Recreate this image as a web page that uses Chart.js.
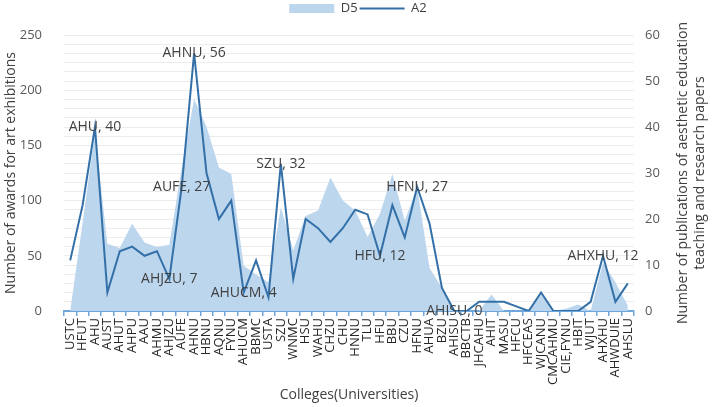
<!DOCTYPE html>
<html>
<head>
<meta charset="utf-8">
<script src="https://cdn.jsdelivr.net/npm/chart.js@4.4.0/dist/chart.umd.min.js"></script>
<style>
html,body{margin:0;padding:0;background:#fff;}
#wrap{width:716px;height:407px;position:relative;}
</style>
</head>
<body>
<div id="wrap"><canvas id="c"></canvas></div>
<script>
const categories = ['USTC','HFUT','AHU','AUST','AHUT','AHPU','AAU','AHMU','AHJZU','AUFE','AHNU','HBNU','AQNU','FYNU','AHUCM','BBMC','USTA','SZU','WNMC','HSU','WAHU','CHZU','CHU','HNNU','TLU','HFU','BBU','CZU','HFNU','AHUA','BZU','AHISU','BBCTB','JHCAHU','AHIT','MASU','HFCU','HFCEAS','WJCANU','CMCAHMU','CIE,FYNU','HBIT','WJUT','AHXHU','AHWDUIE','AHSLU'];
const d5Values = [0,80,162,61,57,79,62,58,60,130,192,167,130,124,41,33,26,94,55,86,91,121,100,91,67,88,124,82,112,39,21,0,0,0,15,0,0,0,14,0,2,6,0,44,26,5];
const a2Values = [11,23,40,4,13,14,12,13,7,27,56,30,20,24,4,11,3,32,7,20,18,15,18,22,21,12,23,16,27,19,5,0,0,2,2,2,1,0,4,0,0,0,2,12,2,6];
const leftTicks = [0,50,100,150,200,250];
const rightTicks = [0,10,20,30,40,50,60];
const annotatedColleges = ['AHU','AHJZU','AUFE','AHNU','AHUCM','SZU','HFU','HFNU','AHISU','AHXHU'];
const leftTitle = 'Number of awards for art exhibitions';
const rightTitle = ['Number of publications of aesthetic education','teaching and research papers'];
const xTitle = 'Colleges(Universities)';

const FONT = '"Open Sans", "DejaVu Sans", sans-serif';
const TEXT = '#404040';

const extras = {
  id: 'extras',
  beforeLayout(chart) {
    const lg = chart.legend;
    if (lg && !lg._patched) {
      const f = lg.fit;
      lg.fit = function () { f.call(this); this.height = 35; };
      lg._patched = true;
    }
  },
  afterDatasetsDraw(chart) {
    const ctx = chart.ctx, xs = chart.scales.x, ys = chart.scales.y1;
    ctx.save();
    ctx.font = '14px ' + FONT;
    ctx.fillStyle = TEXT;
    ctx.textAlign = 'center';
    ctx.textBaseline = 'middle';
    annotatedColleges.forEach(name => {
      const i = categories.indexOf(name);
      ctx.fillText(name + ', ' + a2Values[i], xs.getPixelForValue(i), ys.getPixelForValue(a2Values[i]));
    });
    ctx.restore();
  },
  afterDraw(chart) {
    const ctx = chart.ctx, a = chart.chartArea;
    ctx.save();
    ctx.font = '14px ' + FONT;
    ctx.fillStyle = TEXT;
    ctx.textAlign = 'center';
    ctx.textBaseline = 'middle';
    const cy = (a.top + a.bottom) / 2;
    [683, 700].forEach((x, k) => {
      ctx.save();
      ctx.translate(x, cy);
      ctx.rotate(-Math.PI / 2);
      ctx.fillText(rightTitle[k], 0, 0);
      ctx.restore();
    });
    ctx.restore();
  }
};

new Chart(document.getElementById('c'), {
  type: 'line',
  data: {
    labels: categories,
    datasets: [
      {
        label: 'D5',
        data: d5Values,
        yAxisID: 'y',
        fill: 'origin',
        backgroundColor: '#bcd6ee',
        borderColor: 'rgba(0,0,0,0)',
        borderWidth: 0,
        pointRadius: 0,
        pointBorderWidth: 0,
        pointStyle: 'rect',
        tension: 0,
        order: 1
      },
      {
        label: 'A2',
        data: a2Values,
        yAxisID: 'y1',
        fill: false,
        borderColor: '#3470a8',
        backgroundColor: '#3470a8',
        borderWidth: 2,
        pointRadius: 0,
        pointBorderWidth: 2,
        pointStyle: 'line',
        tension: 0,
        order: 0
      }
    ]
  },
  options: {
    responsive: true,
    maintainAspectRatio: false,
    animation: false,
    layout: { padding: 0 },
    plugins: {
      tooltip: { enabled: false },
      legend: {
        position: 'top',
        labels: {
          usePointStyle: true,
          pointStyleWidth: 45,
          boxHeight: 9,
          padding: 2,
          color: TEXT,
          font: { family: FONT, size: 13 },
          sort: (a, b) => a.datasetIndex - b.datasetIndex
        }
      }
    },
    scales: {
      x: {
        type: 'category',
        offset: true,
        afterFit: s => { s.height = 96; },
        grid: { display: true, drawOnChartArea: false, drawTicks: true, tickLength: 5, color: '#6fa6dc', offset: true, lineWidth: 1.5 },
        border: { display: true, color: '#6fa6dc', width: 2 },
        ticks: { autoSkip: false, minRotation: 90, maxRotation: 90, padding: 2, color: '#262626', font: { family: FONT, size: 13 } },
        title: { display: true, text: xTitle, color: TEXT, font: { family: FONT, size: 14 }, padding: { top: 0, bottom: 4 } }
      },
      y: {
        position: 'left',
        min: 0, max: 250,
        afterFit: s => { s.width = 64; },
        grid: { display: false },
        border: { display: false },
        ticks: { stepSize: 50, padding: 14, color: '#595959', font: { family: FONT, size: 13 },
                 callback: v => leftTicks.includes(v) ? v : '' },
        title: { display: true, text: leftTitle, color: TEXT, font: { family: FONT, size: 14 }, padding: { top: 3, bottom: 0 } }
      },
      y1: {
        position: 'right',
        min: 0, max: 60,
        afterFit: s => { s.width = 82; },
        grid: { display: true, drawTicks: false, color: '#ececec', lineWidth: 1 },
        border: { display: false },
        ticks: { stepSize: 2, autoSkip: false, padding: 11, color: '#595959', font: { family: FONT, size: 13 },
                 callback: v => rightTicks.includes(v) ? v : '' }
      }
    }
  },
  plugins: [extras]
});
</script>
</body>
</html>
